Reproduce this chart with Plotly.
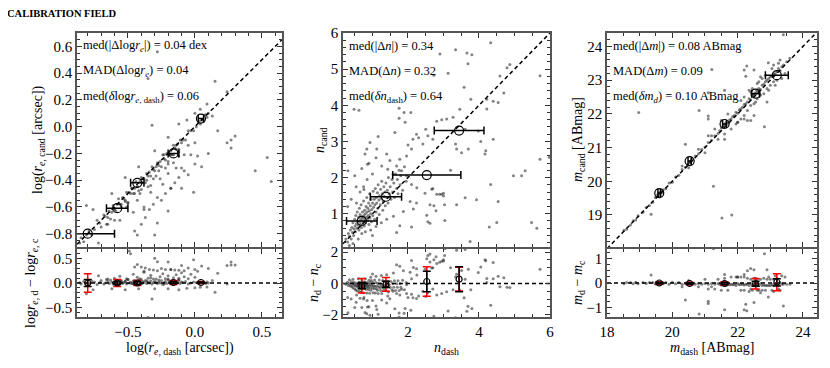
import numpy as np
import plotly.graph_objects as go
from plotly.subplots import make_subplots

# ---- panel 1: effective radius (log arcsec) ----
re_dash = [-0.86, -0.85, -0.83, -0.81, -0.79, -0.77, -0.75, -0.73, -0.71, -0.70, -0.68, -0.67, -0.65, -0.64, -0.63,
           -0.62, -0.61, -0.60, -0.59, -0.58, -0.57, -0.56, -0.55, -0.54, -0.53, -0.52, -0.51, -0.50, -0.49, -0.48,
           -0.47, -0.46, -0.45, -0.44, -0.43, -0.42, -0.41, -0.40, -0.39, -0.38, -0.37, -0.36, -0.35, -0.34, -0.33,
           -0.32, -0.31, -0.30, -0.29, -0.28, -0.27, -0.26, -0.25, -0.24, -0.23, -0.22, -0.21, -0.20, -0.19, -0.18,
           -0.17, -0.16, -0.15, -0.14, -0.13, -0.12, -0.11, -0.10, -0.09, -0.07, -0.05, -0.03, -0.01, 0.01, 0.03,
           0.04, 0.05, 0.06, 0.08, 0.10,
           -0.55, -0.50, -0.47, -0.45, -0.43, -0.41, -0.39, -0.36, -0.33, -0.29, -0.27, -0.23, -0.20, -0.18, -0.16,
           -0.14, -0.12, -0.60, -0.66, -0.52,
           -0.62, -0.42, -0.30, -0.20, -0.12, -0.06, 0.00, 0.04, 0.09, -0.32, -0.35, -0.28, 0.15, 0.24, 0.13, 0.09,
           -0.76, -0.52,
           -0.56, -0.51, -0.46, -0.43, -0.40, -0.38, -0.35, -0.33, -0.31, -0.28, -0.26, -0.24, -0.22, -0.20, -0.18,
           -0.16, -0.14, -0.12, -0.10, -0.08, -0.05, -0.03, 0.00, -0.65, -0.72,
           -0.45, -0.43, -0.40, -0.37, -0.34, -0.31, -0.28, -0.25, -0.22, -0.20, -0.18, -0.15, -0.12, -0.10, -0.08,
           -0.05, -0.01, 0.00, 0.02, 0.05, 0.10, 0.17, 0.24, 0.27, 0.30, 0.27, 0.45, 0.54, 0.57, -0.49, -0.48, -0.81,
           -0.30, -0.60, -0.38]
re_cand = [-0.87, -0.83, -0.86, -0.81, -0.78, -0.81, -0.77, -0.70, -0.72, -0.75, -0.66, -0.67, -0.68, -0.63, -0.69,
           -0.64, -0.59, -0.61, -0.63, -0.58, -0.54, -0.58, -0.60, -0.53, -0.54, -0.55, -0.49, -0.57, -0.49, -0.50,
           -0.46, -0.50, -0.46, -0.41, -0.45, -0.48, -0.41, -0.38, -0.42, -0.39, -0.42, -0.35, -0.37, -0.34, -0.37,
           -0.30, -0.32, -0.33, -0.37, -0.27, -0.29, -0.26, -0.30, -0.21, -0.24, -0.25, -0.20, -0.26, -0.21, -0.18,
           -0.21, -0.14, -0.16, -0.17, -0.13, -0.17, -0.10, -0.12, -0.10, -0.10, -0.03, -0.03, -0.03, 0.00, 0.04,
           0.02, 0.05, 0.05, 0.09, 0.10,
           -0.58, -0.57, -0.46, -0.50, -0.45, -0.50, -0.39, -0.40, -0.44, -0.30, -0.33, -0.21, -0.28, -0.21, -0.21,
           -0.14, -0.22, -0.62, -0.73, -0.56,
           -0.50, -0.30, -0.18, -0.08, 0.02, 0.05, 0.10, 0.13, 0.17, 0.01, 0.36, 0.56, 0.34, 0.26, 0.08, 0.07,
           -0.62, -0.38,
           -0.70, -0.60, -0.64, -0.55, -0.47, -0.60, -0.45, -0.49, -0.39, -0.53, -0.39, -0.43, -0.31, -0.35, -0.46,
           -0.27, -0.31, -0.19, -0.31, -0.21, -0.14, -0.21, -0.12, -0.73, -0.87,
           -0.78, -0.81, -0.73, -0.68, -0.62, -0.58, -0.72, -0.55, -0.50, -0.63, -0.46, -0.42, -0.38, -0.46, -0.33,
           -0.36, -0.49, -0.28, -0.22, -0.30, -0.20, -0.03, -0.12, -0.10, -0.07, -0.16, -0.33, -0.23, -0.41, -1.15,
           -1.08, -0.59, -0.81, -0.70, -0.62]

re_bin_x = [-0.80, -0.58, -0.43, -0.16, 0.045]
re_bin_y = [-0.80, -0.61, -0.42, -0.20, 0.06]
re_bin_xerr = [0.20, 0.08, 0.05, 0.04, 0.02]
re_res_y = [0.00, 0.00, 0.00, 0.01, 0.01]
re_res_err_red = [0.19, 0.07, 0.05, 0.04, 0.02]
re_res_err_blk = [0.07, 0.03, 0.03, 0.02, 0.01]

# ---- panel 2: Sersic index ----
n_dash = [0.25, 0.30, 0.32, 0.35, 0.38, 0.40, 0.42, 0.44, 0.45, 0.47, 0.48, 0.50, 0.51, 0.52, 0.53, 0.55, 0.56,
          0.57, 0.58, 0.60, 0.61, 0.62, 0.63, 0.64, 0.65, 0.66, 0.67, 0.68, 0.69, 0.70, 0.71, 0.72, 0.73, 0.74,
          0.75, 0.76, 0.77, 0.78, 0.79, 0.80, 0.81, 0.82, 0.83, 0.84, 0.85, 0.86, 0.87, 0.88, 0.89, 0.90, 0.91,
          0.92, 0.93, 0.94, 0.95, 0.96, 0.97, 0.98, 1.00, 1.01, 1.02, 1.03, 1.05, 1.06, 1.07, 1.08, 1.10, 1.11,
          1.12, 1.14, 1.15, 1.16, 1.18, 1.19, 1.20, 1.22, 1.23, 1.25, 1.26, 1.28, 1.29, 1.30, 1.32, 1.33, 1.35,
          1.36, 1.38, 1.40, 1.42, 1.44, 1.45, 1.47, 1.50, 1.52, 1.55, 1.57, 1.60, 1.62, 1.65, 1.68, 1.70, 1.72,
          1.75, 1.78, 1.80, 1.85, 1.90, 1.95,
          0.60, 0.70, 0.80, 0.95, 1.10, 1.25, 1.40, 0.45, 0.35, 1.00,
          0.30, 0.40, 0.55, 0.65, 0.75, 0.85, 0.50, 0.70, 1.00, 1.10, 0.90,
          2.90, 3.34, 3.66, 4.33, 3.69, 3.13, 2.73, 4.87, 4.79, 4.59, 5.72, 3.58, 3.77, 4.22, 4.40, 4.54, 4.70,
          4.22, 3.46, 3.27, 3.09, 2.95, 2.81, 1.75, 1.89, 2.08, 1.75, 1.92, 0.48, 0.62, 0.84, 0.79, 1.12, 0.31,
          0.86, 0.54, 0.76, 1.63, 2.14, 2.24, 2.50, 2.56, 2.70, 2.42, 2.10, 1.96, 1.77, 1.40, 1.49, 1.26, 1.43,
          1.68, 1.58, 1.82, 1.96, 2.10, 2.25, 2.67, 2.81, 2.95, 3.00, 3.37, 3.34, 3.51, 3.70, 4.19, 4.17, 4.40,
          3.98, 3.61, 5.72, 5.20, 5.30, 4.97, 5.98, 4.33, 0.93, 1.16,
          4.54, 3.93, 3.37, 3.61, 2.62, 2.73, 3.00, 2.62, 3.04, 3.75, 4.29, 4.50, 5.48, 5.63, 2.15, 2.24, 2.06,
          2.10, 1.77, 1.68, 1.59, 1.87, 2.48,
          2.53, 2.56, 2.79, 3.03, 2.89, 2.70, 3.80, 4.05, 2.30, 2.00, 3.20]
n_cand = [0.30, 0.22, 0.45, 0.38, 0.55, 0.30, 0.62, 0.48, 0.75, 0.40, 0.58, 0.85, 0.66, 0.50, 0.95, 0.72, 0.60,
          1.05, 0.80, 0.68, 0.90, 0.55, 1.15, 0.78, 0.98, 0.70, 0.85, 1.25, 0.62, 0.92, 0.80, 1.05, 0.72, 0.88,
          1.35, 0.95, 0.66, 1.10, 0.84, 1.00, 0.75, 1.20, 0.90, 1.45, 1.05, 0.82, 1.15, 0.95, 1.30, 0.70, 1.08,
          1.55, 0.88, 1.22, 1.00, 1.40, 0.78, 1.12, 1.30, 0.95, 1.62, 1.18, 1.40, 0.85, 1.25, 1.70, 1.05, 1.45,
          1.30, 1.58, 1.15, 1.80, 1.38, 0.98, 1.50, 1.25, 1.68, 1.42, 1.90, 1.55, 1.10, 1.35, 1.75, 1.48, 1.60,
          1.22, 1.85, 1.45, 1.65, 1.30, 2.00, 1.55, 1.75, 1.40, 1.95, 1.60, 1.85, 1.45, 2.10, 1.70, 1.95, 1.55,
          2.20, 1.80, 2.05, 1.65, 2.30, 1.90,
          0.30, 0.45, 0.50, 0.55, 0.65, 0.75, 0.85, 0.18, 0.12, 0.40,
          1.20, 1.40, 1.30, 1.60, 1.75, 1.95, 2.05, 2.25, 2.10, 2.55, 2.40,
          5.42, 5.54, 5.45, 5.73, 5.15, 4.89, 4.83, 5.13, 5.04, 4.81, 4.82, 4.50, 4.17, 4.17, 4.11, 4.08, 4.34,
          3.90, 3.89, 3.67, 3.62, 3.60, 3.56, 3.92, 3.80, 3.80, 3.64, 3.53, 3.89, 3.86, 2.79, 2.65, 2.79, 2.19,
          2.37, 1.75, 1.67, 3.25, 3.06, 3.20, 3.34, 3.16, 3.06, 2.93, 2.79, 2.60, 2.51, 2.65, 2.47, 2.32, 2.23,
          2.32, 2.09, 2.19, 2.05, 1.81, 1.72, 1.68, 1.54, 1.54, 1.49, 2.79, 2.93, 2.69, 2.79, 2.74, 2.65, 3.06,
          3.29, 3.34, 2.51, 2.05, 2.19, 2.05, 2.56, 1.81, 2.97, 3.14,
          1.34, 1.39, 1.25, 1.44, 1.25, 1.22, 1.57, 0.74, 0.81, 0.23, 0.63, 0.76, 0.76, 0.60, 1.13, 1.30, 1.34,
          0.63, 0.67, 0.48, 0.93, 1.06, 1.57,
          0.96, 0.78, 1.08, 1.25, 1.54, 1.70, 5.40, 3.00, 3.10, 2.90, 2.20]

n_bin_x = [0.70, 1.38, 2.53, 3.44]
n_bin_y = [0.80, 1.47, 2.07, 3.30]
n_bin_xerr = [0.43, 0.44, 0.96, 0.70]
n_res_y = [-0.15, -0.06, 0.12, 0.27]
n_res_err_red = [0.47, 0.44, 0.95, 0.76]
n_res_err_blk = [0.20, 0.20, 0.65, 0.80]

# ---- panel 3: magnitude ----
m_dash = [18.52, 18.60, 18.72, 18.80, 18.88, 18.95, 19.10, 19.20, 19.30, 19.40, 19.48, 19.55, 19.58, 19.60,
          19.62, 19.65, 19.68, 19.72, 19.80, 19.90, 20.00, 20.10, 20.20, 20.30, 20.40, 20.48, 20.52, 20.55,
          20.58, 20.62, 20.70, 20.80, 20.90, 21.00, 21.10, 21.20, 21.30, 21.40, 21.45, 21.50, 21.55, 21.58,
          21.62, 21.65, 21.70, 21.75, 21.80, 21.85, 21.90, 21.95, 22.00, 22.05, 22.10, 22.15, 22.20, 22.25,
          22.30, 22.35, 22.40, 22.45, 22.50, 22.52, 22.55, 22.58, 22.60, 22.65, 22.70, 22.75, 22.80, 22.85,
          22.90, 22.95, 23.00, 23.05, 23.10, 23.15, 23.20, 23.25, 23.30, 23.35, 23.40, 23.50, 23.60,
          22.30, 22.40, 22.50, 22.60, 22.70, 22.80, 22.90, 23.00, 23.10, 23.20, 22.45, 22.65, 22.85, 23.05,
          23.25, 22.55, 22.75, 23.15, 23.35, 22.95, 21.80, 21.95, 22.10, 21.60, 21.40, 21.20, 21.00, 20.80,
          20.50, 20.30, 22.20, 22.40, 21.70, 21.50, 21.30, 21.10, 22.00, 22.20, 22.60, 23.30, 23.45, 23.10,
          22.70, 22.35, 22.10,
          21.52, 21.82, 19.35, 18.97, 21.26, 20.82, 21.10, 21.10, 22.28, 22.25, 22.82, 22.00, 22.20, 22.30,
          21.21, 23.40, 22.94, 21.60, 22.20, 20.40, 21.10, 22.50, 22.40, 22.50, 22.90, 21.60]
m_cand = [18.55, 18.58, 18.70, 18.83, 18.85, 18.98, 19.08, 19.22, 19.28, 19.38, 19.52, 19.60, 19.55, 19.65,
          19.62, 19.70, 19.66, 19.75, 19.78, 19.95, 19.97, 20.13, 20.18, 20.35, 20.42, 20.50, 20.58, 20.55,
          20.62, 20.65, 20.75, 20.82, 20.95, 21.02, 21.15, 21.22, 21.35, 21.42, 21.50, 21.58, 21.60, 21.65,
          21.70, 21.75, 21.72, 21.82, 21.85, 21.92, 21.95, 22.05, 22.02, 22.12, 22.15, 22.20, 22.28, 22.30,
          22.35, 22.45, 22.42, 22.55, 22.55, 22.62, 22.60, 22.70, 22.65, 22.75, 22.72, 22.85, 22.88, 22.95,
          23.00, 23.05, 23.10, 23.12, 23.20, 23.18, 23.25, 23.35, 23.28, 23.40, 23.45, 23.55, 23.65,
          22.10, 22.25, 22.30, 22.45, 22.55, 22.60, 22.75, 22.85, 22.95, 23.00, 22.75, 22.95, 23.15, 23.35,
          23.50, 22.35, 23.05, 22.85, 23.05, 22.70, 21.55, 21.70, 21.85, 21.40, 21.25, 21.35, 20.85, 20.95,
          20.40, 20.45, 22.50, 22.65, 22.00, 21.80, 21.55, 21.35, 21.75, 21.95, 22.90, 23.60, 23.20, 23.45,
          23.10, 22.70, 22.40,
          18.91, 19.00, 19.02, 22.04, 19.85, 22.10, 22.63, 21.94, 23.42, 23.12, 21.62, 21.75, 21.85, 21.80,
          23.32, 24.35, 23.52, 22.70, 23.30, 21.10, 21.85, 23.30, 21.80, 21.95, 22.35, 21.25]

m_bin_x = [19.60, 20.53, 21.60, 22.55, 23.20]
m_bin_y = [19.65, 20.60, 21.70, 22.60, 23.15]
m_bin_xerr = [0.04, 0.05, 0.06, 0.12, 0.35]
m_res_y = [0.00, -0.02, -0.02, -0.03, 0.03]
m_res_err_red = [0.05, 0.05, 0.07, 0.22, 0.35]
m_res_err_blk = [0.03, 0.03, 0.04, 0.10, 0.15]

stats_text = [
    ["med(|Δlog<i>r</i><sub><i>e</i></sub>|) = 0.04 dex",
     "MAD(Δlog<i>r</i><sub><i>e</i></sub>) = 0.04",
     "med(<i>δ</i>log<i>r</i><sub><i>e</i>, dash</sub>) = 0.06"],
    ["med(|Δ<i>n</i>|) = 0.34",
     "MAD(Δ<i>n</i>) = 0.32",
     "med(<i>δn</i><sub>dash</sub>) = 0.64"],
    ["med(|Δ<i>m</i>|) = 0.08 ABmag",
     "MAD(Δ<i>m</i>) = 0.09",
     "med(<i>δm</i><sub><i>d</i></sub>) = 0.10 ABmag"],
]

W, H = 830, 368
OFF = 8  # the page body margin shifts the plot by this many pixels
FONT = "Liberation Serif, DejaVu Serif, serif"


def px_x(v):
    return (v - OFF) / W


def px_y(v):
    return 1 - (v - OFF) / H


panels = [
    dict(x=re_dash, y=re_cand, bx=re_bin_x, by=re_bin_y, bxe=re_bin_xerr, ry=re_res_y,
         rred=re_res_err_red, rblk=re_res_err_blk,
         xr=[-0.88, 0.65], yr=[-0.90, 0.70], rr=[-0.70, 0.70],
         xd=0.5, xm=0.1, yd=0.2, ym=0.05, rd=0.5, rm=0.1, fmt=".1f",
         px=(77, 282), ytx=38, rtx=31,
         xt="log(<i>r</i><sub><i>e</i>, dash</sub> [arcsec])",
         yt="log(<i>r</i><sub><i>e</i>, cand</sub> [arcsec])",
         rt="log<i>r</i><sub><i>e</i>, d</sub> − log<i>r</i><sub><i>e</i>, c</sub>"),
    dict(x=n_dash, y=n_cand, bx=n_bin_x, by=n_bin_y, bxe=n_bin_xerr, ry=n_res_y,
         rred=n_res_err_red, rblk=n_res_err_blk,
         xr=[0.17, 6.0], yr=[0.08, 6.0], rr=[-2.15, 2.2],
         xd=2, xm=0.5, yd=1, ym=0.2, rd=2, rm=0.5, fmt="d",
         px=(343, 550), ytx=320, rtx=314,
         xt="<i>n</i><sub>dash</sub>",
         yt="<i>n</i><sub>cand</sub>",
         rt="<i>n</i><sub>d</sub> − <i>n</i><sub>c</sub>"),
    dict(x=m_dash, y=m_cand, bx=m_bin_x, by=m_bin_y, bxe=m_bin_xerr, ry=m_res_y,
         rred=m_res_err_red, rblk=m_res_err_blk,
         xr=[18.0, 24.43], yr=[18.05, 24.4], rr=[-1.4, 1.4],
         xd=2, xm=0.5, yd=1, ym=0.2, rd=1, rm=0.25, fmt="d",
         px=(607, 817), ytx=578, rtx=578,
         xt="<i>m</i><sub>dash</sub> [ABmag]",
         yt="<i>m</i><sub>cand</sub> [ABmag]",
         rt="<i>m</i><sub>d</sub> − <i>m</i><sub>c</sub>"),
]

fig = make_subplots(rows=2, cols=3)

main_dom = [px_y(247), px_y(33)]
res_dom = [px_y(317), px_y(249)]

dot = dict(size=3, color="rgba(30,30,30,0.55)")
dash = "4px,3px"
axis_common = dict(showline=True, mirror="allticks", linecolor="#555", linewidth=1.5,
                   ticks="inside", ticklen=5, tickwidth=1, tickcolor="#333",
                   showgrid=False, zeroline=False, automargin=False,
                   tickfont=dict(family=FONT, size=15, color="black"))
title_font = dict(family=FONT, size=14, color="black")

for i, p in enumerate(panels):
    col = i + 1
    x = np.array(p["x"])
    y = np.array(p["y"])

    # main scatter
    fig.add_trace(go.Scatter(x=x, y=y, mode="markers", marker=dot, showlegend=False), row=1, col=col)
    fig.add_trace(go.Scatter(x=p["xr"], y=p["xr"], mode="lines",
                             line=dict(color="black", width=1.5, dash=dash), showlegend=False),
                  row=1, col=col)
    fig.add_trace(go.Scatter(x=p["bx"], y=p["by"], mode="markers",
                             marker=dict(symbol="circle-open", size=9, color="black", line=dict(width=1.2)),
                             error_x=dict(type="data", array=p["bxe"], color="black", thickness=1.5, width=4),
                             showlegend=False), row=1, col=col)

    # residuals
    fig.add_trace(go.Scatter(x=x, y=x - y, mode="markers", marker=dot, showlegend=False), row=2, col=col)
    fig.add_trace(go.Scatter(x=p["xr"], y=[0, 0], mode="lines",
                             line=dict(color="black", width=1.5, dash=dash), showlegend=False),
                  row=2, col=col)
    fig.add_trace(go.Scatter(x=p["bx"], y=p["ry"], mode="markers",
                             marker=dict(size=0.1, color="red"),
                             error_y=dict(type="data", array=p["rred"], color="red", thickness=1.5, width=4),
                             showlegend=False), row=2, col=col)
    fig.add_trace(go.Scatter(x=p["bx"], y=p["ry"], mode="markers",
                             marker=dict(symbol="circle-open", size=6, color="black", line=dict(width=1.2)),
                             error_y=dict(type="data", array=p["rblk"], color="black", thickness=1.5, width=4),
                             showlegend=False), row=2, col=col)

    xdom = [px_x(p["px"][0]), px_x(p["px"][1])]
    minor_x = dict(ticks="inside", ticklen=3, dtick=p["xm"], tickcolor="#333")
    fig.update_xaxes(axis_common, domain=xdom, range=p["xr"], dtick=p["xd"], tickformat=p["fmt"],
                     showticklabels=False, minor=minor_x, row=1, col=col)
    fig.update_yaxes(axis_common, domain=main_dom, range=p["yr"], dtick=p["yd"], tickformat=p["fmt"],
                     minor=dict(ticks="inside", ticklen=3, dtick=p["ym"], tickcolor="#333"),
                     row=1, col=col)
    fig.update_xaxes(axis_common, domain=xdom, range=p["xr"], dtick=p["xd"], tickformat=p["fmt"],
                     minor=minor_x, row=2, col=col)
    fig.update_yaxes(axis_common, domain=res_dom, range=p["rr"], dtick=p["rd"], tickformat=p["fmt"],
                     minor=dict(ticks="inside", ticklen=3, dtick=p["rm"], tickcolor="#333"),
                     row=2, col=col)

    # axis titles
    fig.add_annotation(text=p["xt"], xref="paper", yref="paper",
                       x=px_x((p["px"][0] + p["px"][1]) / 2), y=px_y(348),
                       xanchor="center", yanchor="middle", showarrow=False, font=title_font)
    fig.add_annotation(text=p["yt"], xref="paper", yref="paper", textangle=-90,
                       x=px_x(p["ytx"]), y=px_y(140),
                       xanchor="center", yanchor="middle", showarrow=False, font=title_font)
    fig.add_annotation(text=p["rt"], xref="paper", yref="paper", textangle=-90,
                       x=px_x(p["rtx"]), y=px_y(283),
                       xanchor="center", yanchor="middle", showarrow=False, font=title_font)

    for k, txt in enumerate(stats_text[i]):
        fig.add_annotation(text=txt, xref="paper", yref="paper",
                           x=px_x(p["px"][0] + 4), y=px_y(46 + 25.5 * k),
                           xanchor="left", yanchor="middle", showarrow=False,
                           font=dict(family=FONT, size=12.5, color="black"))

fig.add_annotation(text="<b>CALIBRATION FIELD</b>", xref="paper", yref="paper",
                   x=px_x(5), y=px_y(13), xanchor="left", yanchor="middle", showarrow=False,
                   font=dict(family=FONT, size=10.5, color="black"))

fig.update_layout(width=W, height=H, margin=dict(l=0, r=0, t=0, b=0),
                  paper_bgcolor="white", plot_bgcolor="white", showlegend=False)

fig.write_html("out.html")
